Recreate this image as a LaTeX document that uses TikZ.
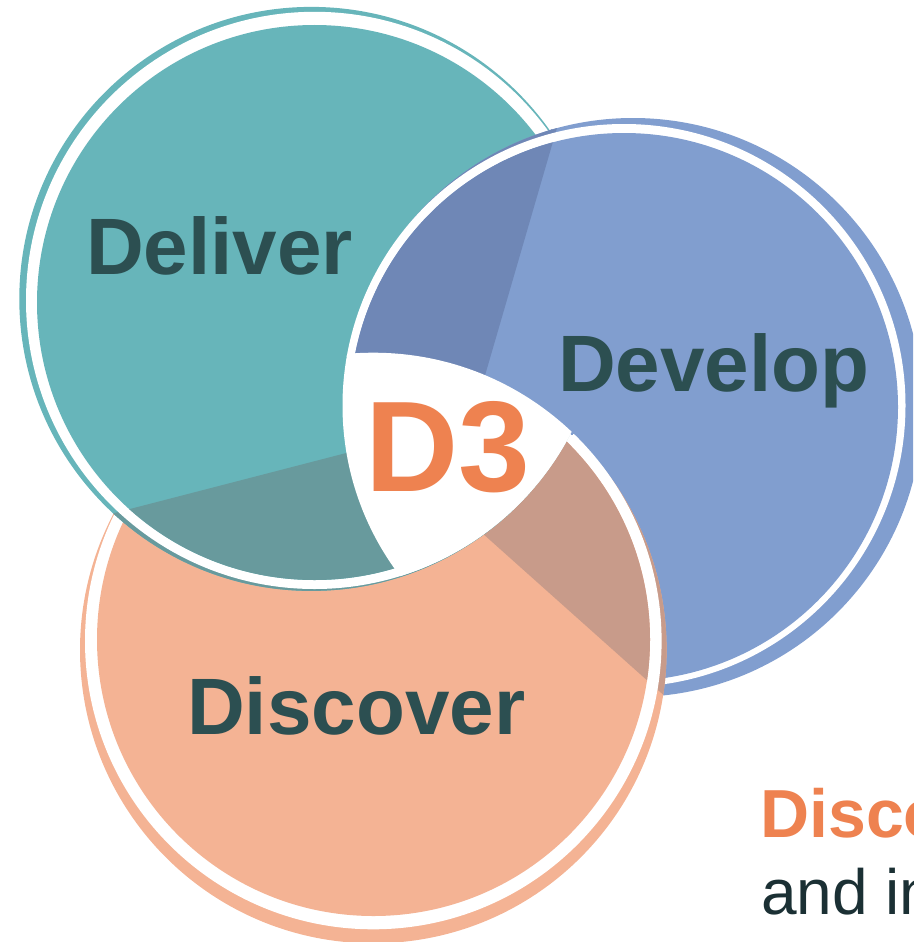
\documentclass[tikz,border=0pt]{standalone}
\usepackage{fontspec}
\setmainfont{Liberation Sans}
\definecolor{delbase}{HTML}{67B5BA}
\definecolor{deldark}{HTML}{689A9D}
\definecolor{devbase}{HTML}{819ECF}
\definecolor{devdark}{HTML}{6F87B6}
\definecolor{disbase}{HTML}{F4B394}
\definecolor{disdark}{HTML}{C89B8A}
\definecolor{labelc}{HTML}{2C4F51}
\definecolor{accent}{HTML}{EE8250}
\definecolor{bodytext}{HTML}{1B3034}
% One ring: #1/#2 outer colour ring centre/radius, #3/#4 white border,
% #5/#6 inner disc, #7 base colour, #8 overlap shade, #9 shaded half-plane
\newcommand\drawdisc[9]{%
  \fill[#7] (#1) circle (#2);
  \begin{scope}\clip (#1) circle (#2); \fill[#8] #9; \end{scope}
  \fill[white] (#3) circle (#4);
  \fill[#7] (#5) circle (#6);
  \begin{scope}\clip (#5) circle (#6); \fill[#8] #9; \end{scope}%
}
\newcommand\delpoly{(-200,594.4) -- (1100,257.9) -- (1100,1200) -- (-200,1200) -- cycle}
\newcommand\devpoly{(652.3,-200) -- (332.5,900) -- (-200,900) -- (-200,-200) -- cycle}
\newcommand\dispoly{(-200,-76.1) -- (1100,1084.8) -- (1100,-300) -- (-200,-300) -- cycle}
\begin{document}
\begin{tikzpicture}[x=1pt,y=-1pt,
  lbl/.style={font=\bfseries\fontsize{80}{80}\selectfont, text=labelc, inner sep=0pt, anchor=base west}]
\useasboundingbox (0,0) rectangle (913,942);
\clip (0,0) rectangle (913,942);

% centres of the three rings
\coordinate (delC) at (314.5,302.5);
\coordinate (delW) at (314.6,300.4);
\coordinate (delR) at (311.3,298.9);
\coordinate (devC) at (624,407);
\coordinate (devW) at (624,405.5);
\coordinate (devR) at (633,407.5);
\coordinate (disC) at (373.5,639.5);
\coordinate (disW) at (373.3,641);
\coordinate (disR) at (373.3,650);

% Develop, then Discover over it, then Deliver over Discover
\drawdisc{devR}{289.5pt}{devW}{281.5pt}{devC}{274pt}{devbase}{devdark}{\devpoly}
\drawdisc{disR}{293.3pt}{disW}{288.3pt}{disC}{276.5pt}{disbase}{disdark}{\dispoly}
\drawdisc{delR}{292pt}{delW}{288.6pt}{delC}{277.5pt}{delbase}{deldark}{\delpoly}

% Develop lies over Deliver where the two overlap (away from Discover);
% painted as one group so the clipped edge blends into the Develop below
\begin{scope}
  \clip (delR) circle (294pt);
  \begin{scope}[even odd rule]
    \clip (-300,-300) rectangle (1300,1300) (disW) circle (286pt);
    \begin{scope}[transparency group]
      \drawdisc{devR}{289.5pt}{devW}{281.5pt}{devC}{274pt}{devbase}{devdark}{\devpoly}
    \end{scope}
  \end{scope}
\end{scope}

% common centre of all three rings
\begin{scope}
  \clip (delW) circle (288.6pt);
  \clip (devW) circle (281.5pt);
  \fill[white] (disW) circle (288.3pt);
\end{scope}

\node[lbl] (deliver) at (86,274) {Deliver};
\node[lbl] (develop) at (558,391) {Develop};
\node[lbl] (discover) at (187,734) {Discover};
\node[font=\bfseries\fontsize{129}{129}\selectfont, text=accent, inner sep=0pt, anchor=base west] (dthree) at (365.6,491) {D3};
\node[font=\bfseries\fontsize{68}{68}\selectfont, text=accent, inner sep=0pt, anchor=base west] (head) at (760,837) {Disco};
\node[font=\fontsize{64}{64}\selectfont, text=bodytext, inner sep=0pt, anchor=base west] (body) at (761,914) {and in};
\end{tikzpicture}
\end{document}
